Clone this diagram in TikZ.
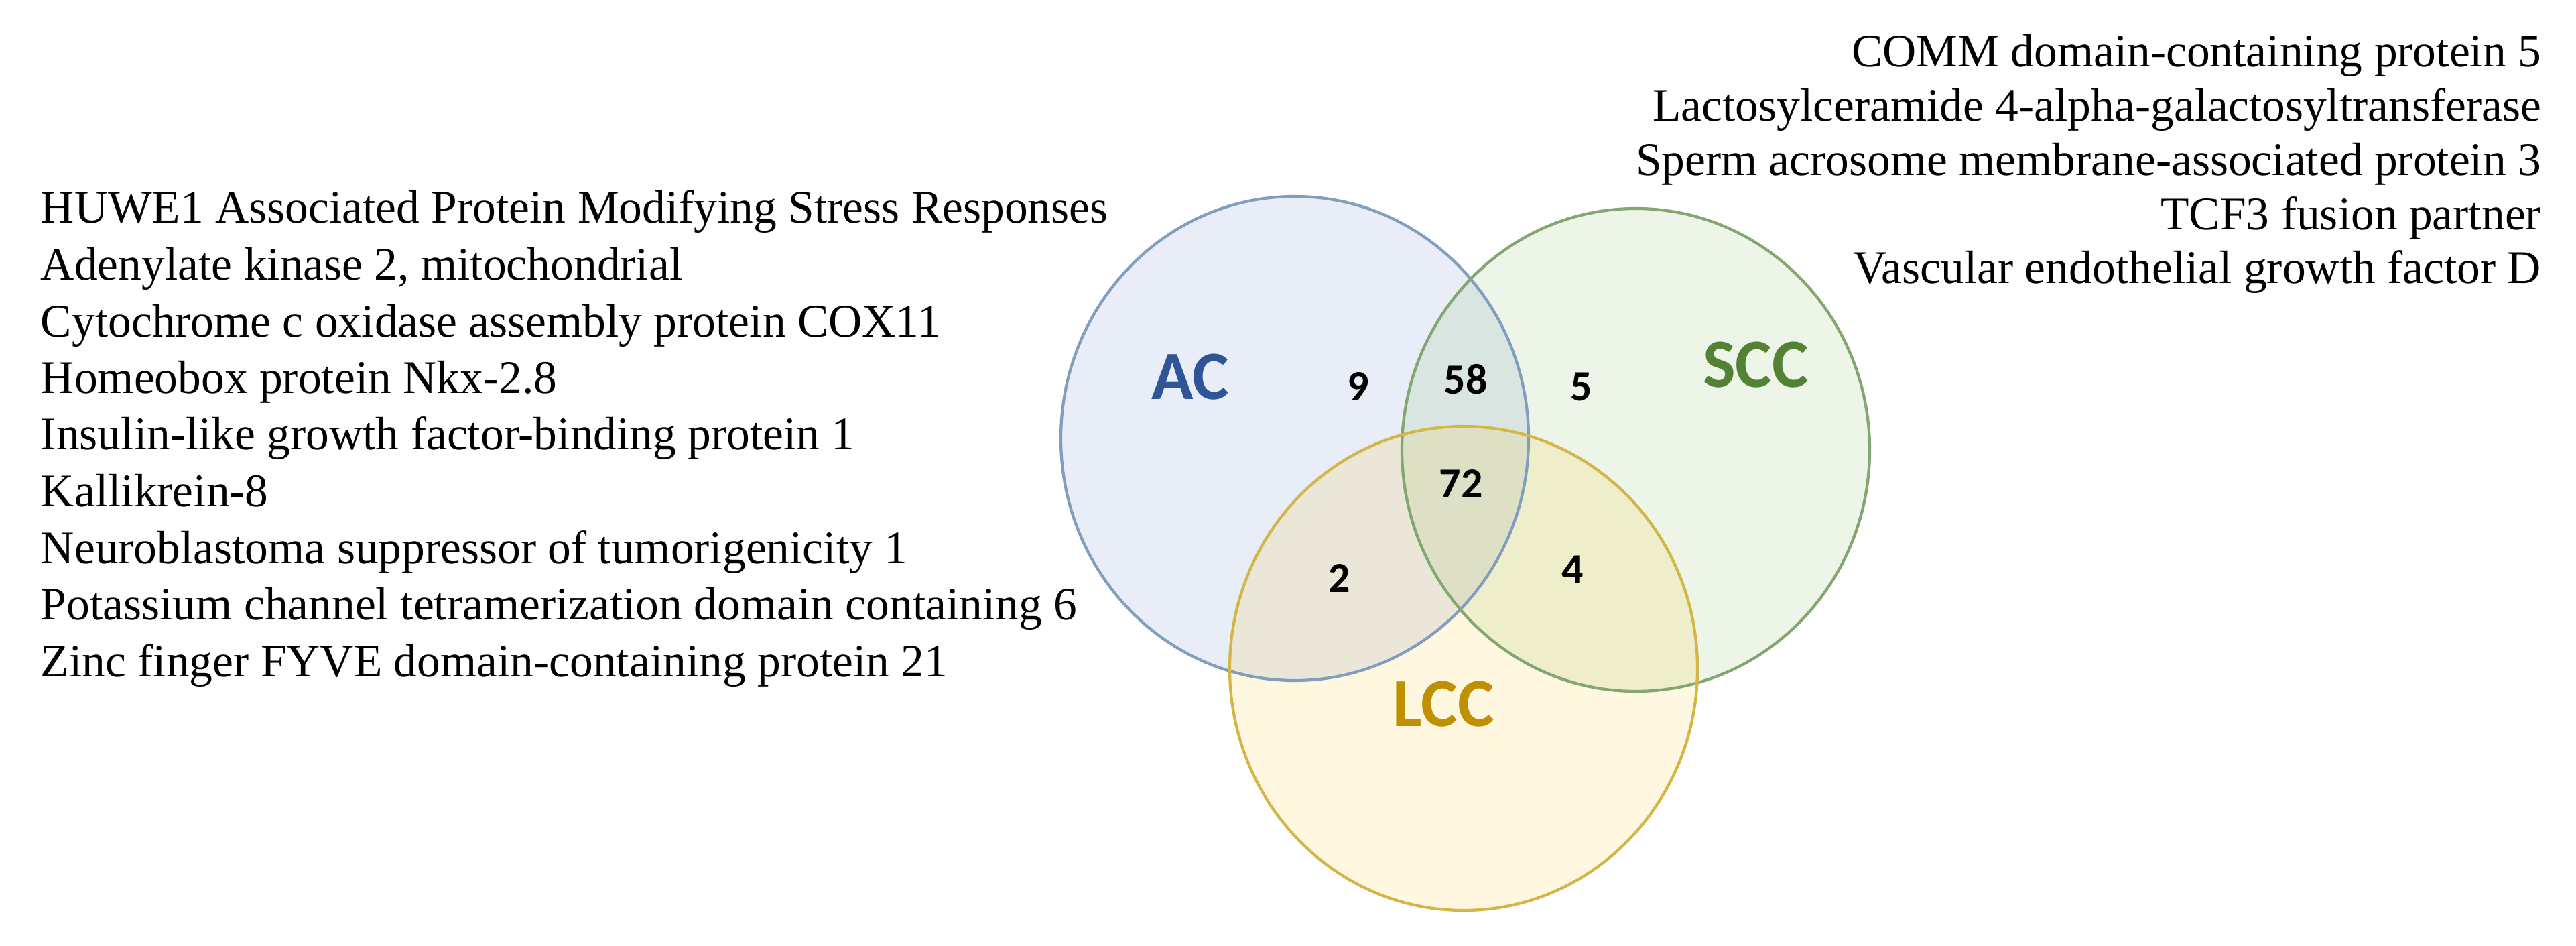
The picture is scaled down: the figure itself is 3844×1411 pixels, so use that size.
\documentclass[tikz,border=0pt]{standalone}
\usepackage{fontspec}
\setmainfont{Liberation Serif}
\newfontfamily\calib{Carlito}
\definecolor{acblue}{RGB}{68,114,196}
\definecolor{sccgreen}{RGB}{112,173,71}
\definecolor{lccgold}{RGB}{255,192,0}
\definecolor{acline}{RGB}{130,158,190}
\definecolor{sccline}{RGB}{132,166,112}
\definecolor{lccline}{RGB}{212,182,72}
\definecolor{actext}{RGB}{47,85,151}
\definecolor{scctext}{RGB}{84,130,53}
\definecolor{lcctext}{RGB}{191,144,0}
\tikzset{
  listtext/.style={inner sep=0pt, font=\fontsize{13.9pt}{16.4pt}\selectfont},
  leftitem/.style={listtext, anchor=base west},
  rightitem/.style={listtext, anchor=base east},
  setlabel/.style={inner sep=0pt, font=\calib\bfseries\fontsize{20.6pt}{24pt}\selectfont},
  count/.style={inner sep=0pt, font=\calib\bfseries\fontsize{12.8pt}{15pt}\selectfont},
  setfill/.style={fill=#1, fill opacity=0.12},
  setline/.style={draw=#1, line width=0.85pt}
}
\begin{document}
\begin{tikzpicture}[x=0.2pt, y=-0.2pt]
\fill[white] (0,0) rectangle (3844,1411);
\useasboundingbox (0,0) rectangle (3844,1411);
% set fills
\fill[setfill=acblue] (1932,654) ellipse [x radius=349, y radius=361];
\fill[setfill=sccgreen] (2441,671) ellipse [x radius=349, y radius=360];
\fill[setfill=lccgold] (2184,997) ellipse [x radius=349, y radius=361];
% set outlines
\draw[setline=acline] (1932,654) ellipse [x radius=349, y radius=361];
\draw[setline=sccline] (2441,671) ellipse [x radius=349, y radius=360];
\draw[setline=lccline] (2184,997) ellipse [x radius=349, y radius=361];
% set labels
\node[setlabel, text=actext] (ac) at (1776,562) {AC};
\node[setlabel, text=scctext] (scc) at (2620,544) {SCC};
\node[setlabel, text=lcctext] (lcc) at (2154,1050) {LCC};
% counts
\node[count] (n9) at (2027,577) {9};
\node[count] (n58) at (2187,566) {58};
\node[count] (n5) at (2360,577) {5};
\node[count] (n72) at (2180,722) {72};
\node[count] (n2) at (1999,863) {2};
\node[count] (n4) at (2347,850) {4};
% left list
\node[leftitem] (l1) at (60,333) {HUWE1 Associated Protein Modifying Stress Responses};
\node[leftitem] (l2) at (60,417.5) {Adenylate kinase 2, mitochondrial};
\node[leftitem] (l3) at (60,502) {Cytochrome c oxidase assembly protein COX11};
\node[leftitem] (l4) at (60,586.5) {Homeobox protein Nkx-2.8};
\node[leftitem] (l5) at (60,671) {Insulin-like growth factor-binding protein 1};
\node[leftitem] (l6) at (60,755.5) {Kallikrein-8};
\node[leftitem] (l7) at (60,840) {Neuroblastoma suppressor of tumorigenicity 1};
\node[leftitem] (l8) at (60,924.5) {Potassium channel tetramerization domain containing 6};
\node[leftitem] (l9) at (60,1009) {Zinc finger FYVE domain-containing protein 21};
% right list
\node[rightitem] (r1) at (3793,100) {COMM domain-containing protein 5};
\node[rightitem] (r2) at (3793,181) {Lactosylceramide 4-alpha-galactosyltransferase};
\node[rightitem] (r3) at (3793,262) {Sperm acrosome membrane-associated protein 3};
\node[rightitem] (r4) at (3793,343) {TCF3 fusion partner};
\node[rightitem] (r5) at (3793,423) {Vascular endothelial growth factor D};
\end{tikzpicture}
\end{document}
